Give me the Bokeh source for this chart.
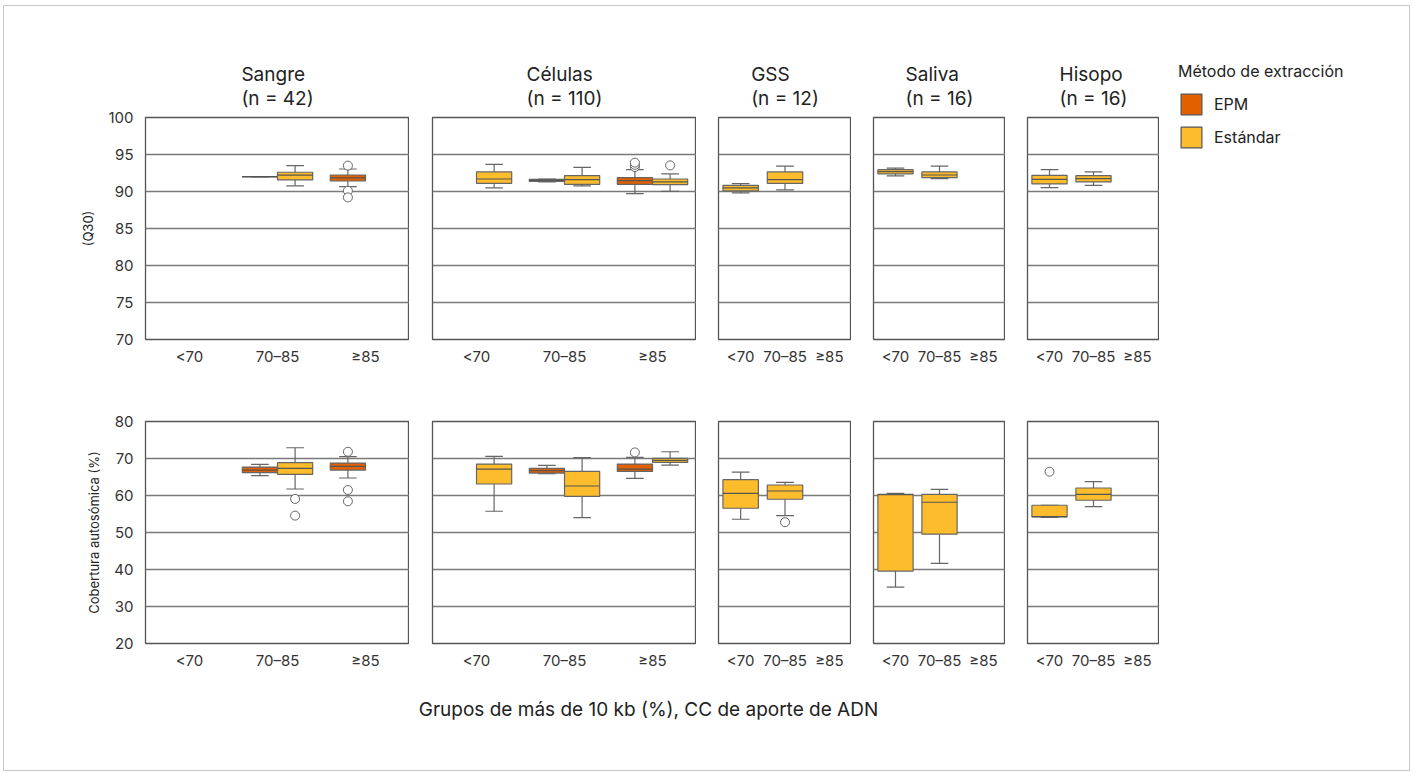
from bokeh.plotting import figure
from bokeh.models import (Range1d, FactorRange, FixedTicker, ColumnDataSource, Title,
                          Legend, LegendItem, Label, Spacer)
from bokeh.transform import dodge
from bokeh.layouts import row, column
from bokeh.embed import file_html
from bokeh.resources import INLINE

FONT = "Inter"

panels = ["Sangre", "Células", "GSS", "Saliva", "Hisopo"]
panel_n = [42, 110, 12, 16, 16]
categories = ["<70", "70–85", "≥85"]
methods = ["EPM", "Estándar"]
method_colors = ["#E36000", "#FDBC2B"]

# ---- Q30 (top row) box statistics ----
q30_panel = ["Sangre", "Sangre", "Sangre", "Células", "Células", "Células", "Células", "Células",
             "GSS", "GSS", "Saliva", "Saliva", "Hisopo", "Hisopo"]
q30_cat = ["70–85", "70–85", "≥85", "<70", "70–85", "70–85", "≥85", "≥85",
           "<70", "70–85", "<70", "70–85", "<70", "70–85"]
q30_method = ["EPM", "Estándar", "EPM", "Estándar", "EPM", "Estándar", "EPM", "Estándar",
              "Estándar", "Estándar", "Estándar", "Estándar", "Estándar", "Estándar"]
q30_lo = [91.97, 90.75, 90.66, 90.48, 91.30, 90.75, 89.72, 90.03, 89.81, 90.21, 92.10, 91.74, 90.53, 90.84]
q30_q1 = [91.97, 91.56, 91.42, 91.11, 91.38, 90.97, 90.97, 90.93, 90.08, 91.11, 92.37, 91.87, 91.02, 91.29]
q30_med = [92.00, 92.20, 91.83, 91.69, 91.51, 91.60, 91.47, 91.29, 90.48, 91.60, 92.68, 92.23, 91.65, 91.74]
q30_q3 = [92.03, 92.60, 92.23, 92.64, 91.65, 92.14, 91.87, 91.69, 90.84, 92.64, 92.95, 92.64, 92.19, 92.14]
q30_hi = [92.03, 93.50, 93.04, 93.67, 91.68, 93.26, 92.95, 92.37, 91.06, 93.44, 93.17, 93.44, 92.95, 92.64]

q30_out_panel = ["Sangre", "Sangre", "Sangre", "Células", "Células", "Células", "Células"]
q30_out_cat = ["≥85", "≥85", "≥85", "≥85", "≥85", "≥85", "≥85"]
q30_out_method = ["EPM", "EPM", "EPM", "EPM", "EPM", "EPM", "Estándar"]
q30_out_val = [93.5, 90.1, 89.2, 93.3, 93.6, 93.9, 93.53]

# ---- Cobertura autosómica (bottom row) box statistics ----
cov_panel = q30_panel
cov_cat = q30_cat
cov_method = q30_method
cov_lo = [65.36, 61.76, 64.73, 55.74, 65.90, 54.03, 64.64, 68.23, 53.58, 54.57, 35.26, 41.64, 54.10, 57.00]
cov_q1 = [66.16, 65.71, 66.88, 63.11, 66.07, 59.78, 66.52, 68.95, 56.55, 58.98, 39.57, 49.54, 54.20, 58.71]
cov_med = [66.88, 67.33, 67.87, 67.15, 66.70, 62.57, 67.15, 69.49, 60.59, 61.22, 60.20, 58.17, 54.30, 60.32]
cov_q3 = [67.69, 68.86, 68.77, 68.50, 67.33, 66.52, 68.50, 70.03, 64.28, 62.84, 60.32, 60.32, 57.36, 62.03]
cov_hi = [68.41, 72.90, 70.48, 70.57, 68.14, 70.21, 70.30, 71.82, 66.34, 63.56, 60.59, 61.67, 57.36, 63.74]

cov_out_panel = ["Sangre", "Sangre", "Sangre", "Sangre", "Sangre", "Células", "GSS", "Hisopo"]
cov_out_cat = ["70–85", "70–85", "≥85", "≥85", "≥85", "≥85", "70–85", "<70"]
cov_out_method = ["Estándar", "Estándar", "EPM", "EPM", "EPM", "EPM", "Estándar", "Estándar"]
cov_out_val = [59.07, 54.57, 71.82, 61.49, 58.44, 71.64, 52.78, 66.43]

q30_ticks = [70, 75, 80, 85, 90, 95, 100]
cov_ticks = [20, 30, 40, 50, 60, 70, 80]

q30_stats = dict(panel=q30_panel, cat=q30_cat, method=q30_method, lo=q30_lo, q1=q30_q1,
                 med=q30_med, q3=q30_q3, hi=q30_hi)
q30_outs = dict(panel=q30_out_panel, cat=q30_out_cat, method=q30_out_method, val=q30_out_val)
cov_stats = dict(panel=cov_panel, cat=cov_cat, method=cov_method, lo=cov_lo, q1=cov_q1,
                 med=cov_med, q3=cov_q3, hi=cov_hi)
cov_outs = dict(panel=cov_out_panel, cat=cov_out_cat, method=cov_out_method, val=cov_out_val)

FRAME_W = {"Sangre": 264, "Células": 264, "GSS": 133, "Saliva": 132, "Hisopo": 132}
LEFT_B = {"Sangre": 141, "Células": 23, "GSS": 22, "Saliva": 22, "Hisopo": 22}
FRAME_H = 222
TOP_H = 373
LEGEND_W = 250
BOX_LINE = "#666666"
TEXT = "#222222"


def subset(d, panel, method):
    idx = [i for i in range(len(d["panel"])) if d["panel"][i] == panel and d["method"][i] == method]
    return {k: [v[i] for i in idx] for k, v in d.items()}


def build(pi, stats, outs, yr, yticks, top_row, ylabel):
    name = panels[pi]
    first = pi == 0
    fw = FRAME_W[name]
    left = LEFT_B[name]
    top = 111 if top_row else 42
    bottom = 40
    p = figure(width=left + fw, height=top + FRAME_H + bottom,
               x_range=FactorRange(*categories), y_range=Range1d(*yr),
               output_backend="svg", toolbar_location=None,
               min_border_left=left, min_border_right=0,
               min_border_top=top, min_border_bottom=bottom)
    p.title.visible = False
    p.background_fill_color = "white"
    p.border_fill_color = None
    p.outline_line_color = "#555555"
    p.outline_line_width = 1.3
    p.xgrid.visible = False
    p.ygrid.ticker = FixedTicker(ticks=yticks)
    p.ygrid.grid_line_color = "#7a7a7a"
    p.ygrid.grid_line_width = 1.3

    p.yaxis.ticker = FixedTicker(ticks=yticks)
    for ax in (p.xaxis[0], p.yaxis[0]):
        ax.axis_line_color = None
        ax.major_tick_line_color = None
        ax.minor_tick_line_color = None
        ax.major_tick_out = 0
        ax.major_tick_in = 0
        ax.major_label_text_font = FONT
        ax.major_label_text_font_size = "15px"
        ax.major_label_text_color = "#333333"
    p.xaxis.major_label_standoff = 7
    p.yaxis.major_label_standoff = 12
    if first:
        p.yaxis.axis_label = ylabel
        p.yaxis.axis_label_text_font = FONT
        p.yaxis.axis_label_text_font_size = "13px"
        p.yaxis.axis_label_text_font_style = "normal"
        p.yaxis.axis_label_text_color = TEXT
        p.yaxis.axis_label_standoff = 9
    else:
        p.yaxis.visible = False

    present = [m for m in methods if m in [stats["method"][i] for i in range(len(stats["panel"]))
                                           if stats["panel"][i] == name]]
    both = len(present) == 2
    w = 0.4 if both else 0.8
    for m in present:
        off = (-0.2 if m == "EPM" else 0.2) if both else 0.0
        color = method_colors[methods.index(m)]
        src = ColumnDataSource(subset(stats, name, m))
        xr = p.x_range
        xc = dodge("cat", off, range=xr)
        # whiskers
        p.segment(x0=xc, x1=xc, y0="q3", y1="hi", source=src, line_color=BOX_LINE, line_width=1.2)
        p.segment(x0=xc, x1=xc, y0="q1", y1="lo", source=src, line_color=BOX_LINE, line_width=1.2)
        p.segment(x0=dodge("cat", off - w / 4, range=xr), x1=dodge("cat", off + w / 4, range=xr),
                  y0="hi", y1="hi", source=src, line_color=BOX_LINE, line_width=1.2)
        p.segment(x0=dodge("cat", off - w / 4, range=xr), x1=dodge("cat", off + w / 4, range=xr),
                  y0="lo", y1="lo", source=src, line_color=BOX_LINE, line_width=1.2)
        # box
        p.vbar(x=xc, width=w, top="q3", bottom="q1", source=src, fill_color=color,
               line_color=BOX_LINE, line_width=1.2)
        # median
        p.segment(x0=dodge("cat", off - w / 2, range=xr), x1=dodge("cat", off + w / 2, range=xr),
                  y0="med", y1="med", source=src, line_color="#555555", line_width=1.2)
        # outliers
        osrc = ColumnDataSource(subset(outs, name, m))
        p.scatter(x=xc, y="val", source=osrc, marker="circle", size=9, fill_color="white",
                  line_color="#666666", line_width=1)

    if top_row:
        p.add_layout(Title(text=f"{name}\n(n = {panel_n[pi]})", align="center", text_font=FONT,
                           text_font_size="19px", text_font_style="normal", text_color=TEXT,
                           text_line_height=1.05, standoff=14), "above")
    return p


top_figs = [build(i, q30_stats, q30_outs, (70, 100), q30_ticks, True, "(Q30)") for i in range(5)]
bot_figs = [build(i, cov_stats, cov_outs, (20, 80), cov_ticks, False, "Cobertura autosómica (%)")
            for i in range(5)]

# legend figure (its frame covers the whole figure)
lg = figure(width=LEGEND_W, height=TOP_H, x_range=Range1d(0, 1), y_range=Range1d(0, 1),
            min_border=0, output_backend="svg", toolbar_location=None)
lg.title.visible = False
lg.axis.visible = False
lg.grid.visible = False
lg.outline_line_color = None
lg.border_fill_color = None
items = []
for m, c in zip(methods, method_colors):
    # swatch renderer kept outside the visible range; only its legend glyph is shown
    r = lg.quad(left=[5], right=[6], top=[6], bottom=[5], fill_color=c, line_color="#555555",
                line_width=1.2)
    items.append(LegendItem(label=m, renderers=[r]))
legend = Legend(items=items, location=(19, 229), title="Método de extracción",
                title_text_font=FONT, title_text_font_size="16px", title_text_font_style="normal",
                title_text_color=TEXT, title_standoff=10,
                label_text_font=FONT, label_text_font_size="16px", label_text_color=TEXT,
                glyph_width=26, glyph_height=26, label_height=26, label_standoff=10, spacing=7,
                padding=0, margin=0, border_line_color=None, background_fill_alpha=0)
lg.add_layout(legend)

# common x-axis label
xl = figure(width=1155, height=87, x_range=Range1d(0, 1), y_range=Range1d(0, 1),
            min_border=0, output_backend="svg", toolbar_location=None)
xl.title.visible = False
xl.axis.visible = False
xl.grid.visible = False
xl.outline_line_color = None
xl.add_layout(Label(x=644, y=61, x_units="screen", y_units="screen",
                    text="Grupos de más de 10 kb (%), CC de aporte de ADN",
                    text_align="center", text_baseline="middle", text_font=FONT,
                    text_font_size="19px", text_color=TEXT))

main = column(row(*top_figs, spacing=0), row(*bot_figs, spacing=0), xl, spacing=0)
side = column(lg, Spacer(width=LEGEND_W, height=764 - TOP_H), spacing=0)
layout = row(main, side, spacing=0,
             styles={"border": "1px solid #c8c8c8", "margin-left": "3px", "margin-top": "5px"})

open("out.html", "w").write(file_html(layout, INLINE))
